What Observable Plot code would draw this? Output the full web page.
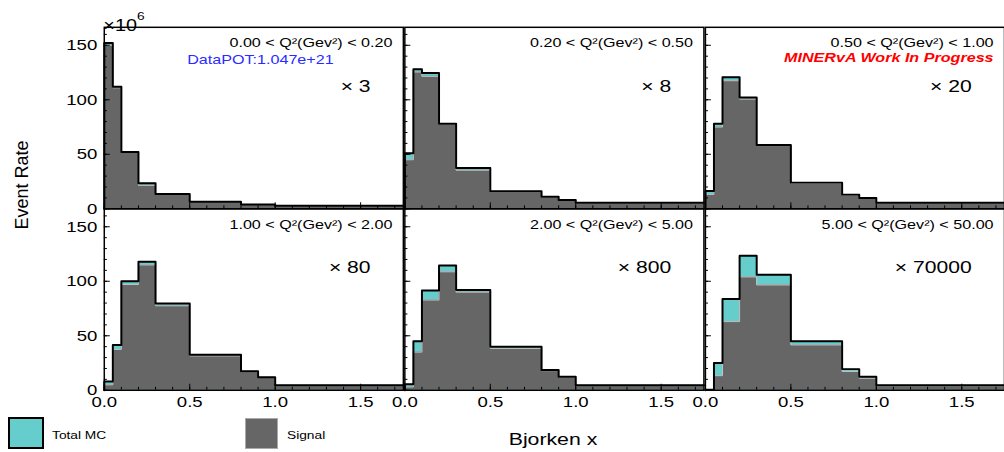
<!DOCTYPE html>
<html><head><meta charset="utf-8">
<script src="https://cdn.jsdelivr.net/npm/d3@7"></script>
<script src="https://cdn.jsdelivr.net/npm/@observablehq/plot@0.6"></script>
<style>
body{margin:0;background:#fff;font-family:"Liberation Sans",Arial,Helvetica,sans-serif;}
#wrap{position:relative;width:1004px;height:452px;overflow:hidden;background:#fff;}
#chart{position:absolute;left:0;top:0;}
.abs{position:absolute;white-space:nowrap;color:#000;}
</style></head><body>
<div id="wrap">
  <div id="chart"></div>
  <div class="abs" id="ytitle" style="left:22px;top:185px;font-size:18px;transform:translate(-50%,-50%) rotate(-90deg);">Event Rate</div>
  <div class="abs" id="xtitle" style="left:553px;top:440px;font-size:17px;transform:translate(-50%,-50%) scaleX(1.25);">Bjorken x</div>
  <div class="abs" id="leg1box" style="left:8px;top:417px;width:36px;height:32px;box-sizing:border-box;border:2px solid #000;background:#66cdcd;"></div>
  <div class="abs" id="leg1txt" style="left:52px;top:435px;font-size:11px;transform:translateY(-50%) scaleX(1.25);transform-origin:left center;"></div>
  <div class="abs" id="leg2box" style="left:245px;top:418px;width:33px;height:31px;box-sizing:border-box;border:1px solid #aaa;background:#666;"></div>
  <div class="abs" id="leg2txt" style="left:287px;top:435px;font-size:11px;transform:translateY(-50%) scaleX(1.25);transform-origin:left center;"></div>
</div>
<script>
// ---- data ----
const binEdges = [0, 0.05, 0.1, 0.2, 0.3, 0.5, 0.8, 0.9, 1.0, 1.75];
const q2Ranges = [
  "0.00 < Q²(Gev²) < 0.20", "0.20 < Q²(Gev²) < 0.50", "0.50 < Q²(Gev²) < 1.00",
  "1.00 < Q²(Gev²) < 2.00", "2.00 < Q²(Gev²) < 5.00", "5.00 < Q²(Gev²) < 50.00"
];
const scaleFactors = ["× 3", "× 8", "× 20", "× 80", "× 800", "× 70000"];
const totalMC = [
  [152, 112, 52, 23.5, 13.5, 6.5, 4, 4, 2.7],
  [51, 128, 124.5, 78, 37.5, 16, 11, 8, 5.5],
  [16.3, 78, 120.6, 102, 58.5, 24, 13, 10, 5.5],
  [8, 41.6, 100, 118, 79.7, 32.5, 17.5, 12, 4.5],
  [5.6, 45, 91.6, 114.5, 92, 40, 18.7, 12.5, 4.5],
  [0.5, 25, 83.7, 123.4, 106, 45, 19.4, 12.5, 4.5]
];
const signal = [
  [150, 111, 52, 21.5, 13.5, 6.5, 4, 4, 2.7],
  [45, 125.5, 121.5, 77.5, 35.4, 15.5, 10.7, 7.8, 5.3],
  [13.2, 75, 117.5, 100.6, 58, 23.5, 12.7, 9.8, 5.3],
  [5, 37.5, 97, 115, 77.5, 31.5, 17, 11.7, 4.2],
  [3, 35, 82.8, 108.7, 90, 38.4, 18, 12, 4.2],
  [0, 13.4, 63, 104, 96.6, 41.6, 17.2, 11, 4]
];
const yTickLabels = [0, 50, 100, 150];
const xTickLabels = [0, 0.5, 1.0, 1.5];
const yMinorTicks = d3.range(0, 170, 10);
const xMinorTicks = d3.range(0, 1.75, 0.1);
const legendLabels = ["Total MC", "Signal"];
const exponentBase = "×10";
const exponentPower = "6";
const dataPOT = "DataPOT:1.047e+21";
const workLabel = "MINERvA Work In Progress";
const axisTitles = ["Event Rate", "Bjorken x"];

// ---- build tables ----
const panels = q2Ranges.map((q, i) => ({panel: i, col: i % 3, row: Math.floor(i / 3), q2: q, scale: scaleFactors[i]}));
const totSteps = [], sigSteps = [];
panels.forEach(p => {
  totSteps.push({...p, x: 0, v: 0});
  sigSteps.push({...p, x: 0, v: 0});
  for (let j = 0; j < binEdges.length - 1; j++) {
    totSteps.push({...p, x: binEdges[j], v: totalMC[p.panel][j]});
    sigSteps.push({...p, x: binEdges[j], v: signal[p.panel][j]});
  }
  const n = binEdges.length - 2;
  totSteps.push({...p, x: binEdges[n + 1], v: totalMC[p.panel][n]});
  sigSteps.push({...p, x: binEdges[n + 1], v: signal[p.panel][n]});
});

const font = "'Liberation Sans', Arial, Helvetica, sans-serif";
const chart = Plot.plot({
  width: 1011, height: 416,
  marginLeft: 104.5, marginRight: 0, marginTop: 27, marginBottom: 23.5,
  style: {fontFamily: font, background: "white", overflow: "visible", color: "black"},
  x: {domain: [0, 1.75]},
  y: {domain: [0, 166.5]},
  fx: {domain: [0, 1, 2], paddingInner: 0.005, paddingOuter: 0, round: false, axis: null},
  fy: {domain: [0, 1], paddingInner: 0, paddingOuter: 0, round: false, axis: null},
  marks: [
    Plot.areaY(totSteps, {fx: "col", fy: "row", x: "x", y1: 0, y2: "v", z: "panel", curve: "step-after", fill: "#66cdcd"}),
    Plot.areaY(sigSteps, {fx: "col", fy: "row", x: "x", y1: 0, y2: "v", z: "panel", curve: "step-after", fill: "#666666"}),
    Plot.line(sigSteps, {fx: "col", fy: "row", x: "x", y: "v", z: "panel", curve: "step-after", stroke: "#c4c4c4", strokeWidth: 1}),
    Plot.line(totSteps, {fx: "col", fy: "row", x: "x", y: "v", z: "panel", curve: "step-after", stroke: "black", strokeWidth: 2}),
    Plot.ruleY(yMinorTicks, {y: d => d, x1: 0, x2: 0.018, stroke: "black", strokeWidth: 1}),
    Plot.ruleY(yTickLabels, {y: d => d, x1: 0, x2: 0.035, stroke: "black", strokeWidth: 1}),
    Plot.ruleX(xMinorTicks, {x: d => d, y1: 0, y2: 2.7, stroke: "black", strokeWidth: 1}),
    Plot.ruleX(xTickLabels, {x: d => d, y1: 0, y2: 5.5, stroke: "black", strokeWidth: 1}),
    Plot.frame({stroke: "black", strokeWidth: 1.5}),
    Plot.axisY({ticks: yTickLabels, tickSize: 0, tickPadding: 7, fontSize: 15, label: null}),
    Plot.axisX({ticks: xTickLabels, tickFormat: d3.format(".1f"), tickSize: 0, tickPadding: 6, fontSize: 15, label: null}),
    Plot.text(panels, {fx: "col", fy: "row", text: "q2", frameAnchor: "top-right", dx: -11, dy: 11, textAnchor: "end", fontSize: 13, fill: "black"}),
    Plot.text(panels, {fx: "col", fy: "row", text: "scale", frameAnchor: "top-right", dx: -33, dy: 53, textAnchor: "end", fontSize: 17, fill: "black"}),
    Plot.text([{col: 0, row: 0, t: exponentBase}], {fx: "col", fy: "row", text: "t", frameAnchor: "top-left", dx: -1, dy: -8, textAnchor: "start", fontSize: 16, fill: "black"}),
    Plot.text([{col: 0, row: 0, t: exponentPower}], {fx: "col", fy: "row", text: "t", frameAnchor: "top-left", dx: 33, dy: -15, textAnchor: "start", fontSize: 11, fill: "black"}),
    Plot.text([{col: 0, row: 0, t: dataPOT}], {fx: "col", fy: "row", text: "t", frameAnchor: "top-left", dx: 83.5, dy: 28, textAnchor: "start", fontSize: 13, fill: "#2b2bff"}),
    Plot.text([{col: 2, row: 0, t: workLabel}], {fx: "col", fy: "row", text: "t", frameAnchor: "top-right", dx: -11, dy: 26, textAnchor: "end", fontSize: 13, fontWeight: "bold", fontStyle: "italic", fill: "#ff0000"})
  ]
});
document.getElementById("chart").append(chart);
// horizontal stretch of texts to match the reference's aspect
const K = 1.25;
chart.querySelectorAll("text").forEach(t => {
  const L = t.getComputedTextLength();
  if (L > 0) { t.setAttribute("textLength", (L * K).toFixed(1)); t.setAttribute("lengthAdjust", "spacingAndGlyphs"); }
});
document.getElementById("ytitle").textContent = axisTitles[0];
document.getElementById("xtitle").textContent = axisTitles[1];
document.getElementById("leg1txt").textContent = legendLabels[0];
document.getElementById("leg2txt").textContent = legendLabels[1];
</script>
</body></html>
